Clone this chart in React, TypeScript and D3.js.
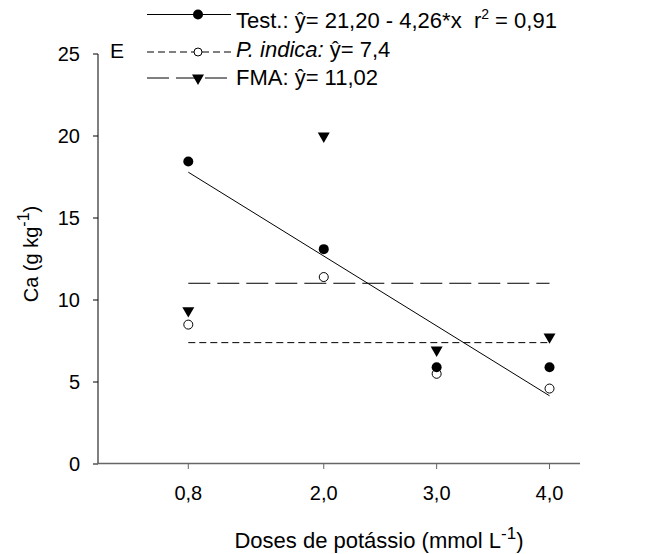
import React from 'react';
import * as d3 from 'd3';

const doses = [0.8, 2.0, 3.0, 4.0];
const doseLabels = ['0,8', '2,0', '3,0', '4,0'];
const testValues = [18.45, 13.1, 5.9, 5.9];
const indicaValues = [8.5, 11.4, 5.5, 4.6];
const fmaValues = [9.35, 20.0, 6.95, 7.75];
const yTicks = [0, 5, 10, 15, 20, 25];
const testIntercept = 21.2;
const testSlope = -4.26;
const indicaMean = 7.4;
const fmaMean = 11.02;

const W = 652;
const H = 554;
const FONT = 'Liberation Sans, Arial, sans-serif';

export default function App() {
  const x = d3.scaleLinear().domain([0, 4.27]).range([98, 580]);
  const y = d3.scaleLinear().domain([0, 25]).range([464, 54]);
  const xMin = doses[0];
  const xMax = doses[doses.length - 1];
  const line = d3
    .line<[number, number]>()
    .x((d) => x(d[0]))
    .y((d) => y(d[1]));
  const fitPts: [number, number][] = [
    [xMin, testIntercept + testSlope * xMin],
    [xMax, testIntercept + testSlope * xMax],
  ];
  const tri = d3.symbol().type(d3.symbolTriangle).size(62);
  const triT = (cx: number, cy: number) => `translate(${cx},${cy}) rotate(180)`;

  const lineY = [14.5, 52, 78];
  const textY = [28, 57, 85];
  const lx1 = 147;
  const lx2 = 231;
  const lmx = 198;
  const tx = 236;

  return (
    <svg width={W} height={H} style={{ position: 'absolute', left: 0, top: 0, background: '#fff' }} fontFamily={FONT}>
      {/* y axis */}
      <line x1={98} x2={98} y1={y(0)} y2={y(25)} stroke="#000" strokeWidth={1} />
      {yTicks.map((t) => (
        <g key={t}>
          <line x1={93} x2={98} y1={y(t)} y2={y(t)} stroke="#000" />
          <text x={80} y={y(t)} dy="0.36em" textAnchor="end" fontSize={20}>
            {t}
          </text>
        </g>
      ))}
      {/* x axis */}
      <line x1={97} x2={580} y1={y(0) - 0.5} y2={y(0) - 0.5} stroke="#666" strokeWidth={1.5} />
      {doses.map((d, i) => (
        <g key={d}>
          <line x1={x(d)} x2={x(d)} y1={y(0)} y2={y(0) + 5} stroke="#666" />
          <text x={x(d)} y={500} textAnchor="middle" fontSize={20}>
            {doseLabels[i]}
          </text>
        </g>
      ))}
      {/* axis labels */}
      <text x={379} y={548} textAnchor="middle" fontSize={22}>
        Doses de potássio (mmol L
        <tspan dy={-9} fontSize={17}>-1</tspan>
        <tspan dy={9}>)</tspan>
      </text>
      <text transform={`translate(38,254) rotate(-90)`} textAnchor="middle" fontSize={20}>
        Ca (g kg
        <tspan dy={-9} fontSize={16}>-1</tspan>
        <tspan dy={9}>)</tspan>
      </text>
      <text x={110} y={58} fontSize={21}>E</text>

      {/* regression & means */}
      <path d={line(fitPts) || ''} stroke="#000" fill="none" strokeWidth={1} />
      <line x1={x(xMin)} x2={x(xMax)} y1={y(indicaMean)} y2={y(indicaMean)} stroke="#000" strokeDasharray="7 4" />
      <line x1={x(xMin)} x2={x(xMax)} y1={y(fmaMean)} y2={y(fmaMean)} stroke="#000" strokeDasharray="22 7" />

      {/* points */}
      {doses.map((d, i) => (
        <g key={'p' + d}>
          <path d={tri() || ''} transform={triT(x(d), y(fmaValues[i]))} fill="#000" />
          <circle cx={x(d)} cy={y(indicaValues[i])} r={4.5} fill="#fff" stroke="#000" />
          <circle cx={x(d)} cy={y(testValues[i])} r={5} fill="#000" />
        </g>
      ))}

      {/* legend */}
      <line x1={lx1} x2={lx2} y1={lineY[0]} y2={lineY[0]} stroke="#000" />
      <circle cx={lmx} cy={lineY[0]} r={5} fill="#000" />
      <text x={tx} y={textY[0]} fontSize={22}>
        Test.: ŷ= 21,20 - 4,26*x{'\u00a0\u00a0'}r
        <tspan dy={-9} fontSize={14}>2</tspan>
        <tspan dy={9}> = 0,91</tspan>
      </text>

      <line x1={lx1} x2={lx2} y1={lineY[1]} y2={lineY[1]} stroke="#000" strokeDasharray="7 4" />
      <circle cx={lmx} cy={lineY[1]} r={4} fill="#fff" stroke="#000" />
      <text x={tx} y={textY[1]} fontSize={22}>
        <tspan fontStyle="italic">P. indica:</tspan> ŷ= 7,4
      </text>

      <line x1={lx1} x2={lx2} y1={lineY[2]} y2={lineY[2]} stroke="#000" strokeDasharray="22 7" />
      <path d={tri() || ''} transform={triT(lmx, lineY[2])} fill="#000" />
      <text x={tx} y={textY[2]} fontSize={22}>
        FMA: ŷ= 11,02
      </text>
    </svg>
  );
}
